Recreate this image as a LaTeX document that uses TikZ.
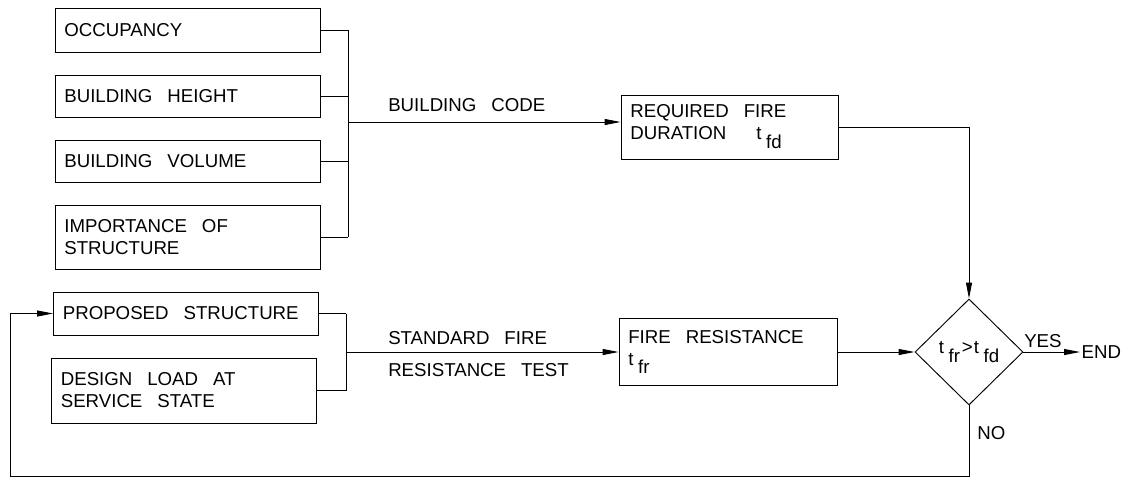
\documentclass[tikz,border=0pt]{standalone}
\usepackage{fontspec}
\setmainfont{Liberation Sans}
\usetikzlibrary{arrows.meta,shapes.geometric}
\newcommand\tsb[2]{#1\raisebox{-0.9ex}{\kern0.25em #2}}
\newcommand\ws{\hspace{0.8em}}
\begin{document}
\begin{tikzpicture}[x=0.75pt,y=-0.75pt,
  every node/.style={font=\fontsize{14}{16.5}\selectfont},
  lbox/.style={draw, line width=0.7pt, rectangle, inner xsep=7pt, inner ysep=0pt, align=left},
  arr/.style={line width=0.7pt, -{Triangle[length=12pt,width=4.5pt]}},
  ln/.style={line width=0.7pt},
  lbl/.style={inner sep=0pt}]
\useasboundingbox (0,0) rectangle (1132,480);

% left boxes
\node[lbox, text width=184.75pt, minimum height=33pt]   (occ)  at (187.5,30)  {OCCUPANCY};
\node[lbox, text width=184.75pt, minimum height=31.5pt] (hgt)  at (187.5,96)  {BUILDING\ws HEIGHT};
\node[lbox, text width=184.75pt, minimum height=31.5pt] (vol)  at (187.5,161) {BUILDING\ws VOLUME};
\node[lbox, text width=184.75pt, minimum height=48pt]   (imp)  at (187.5,237) {IMPORTANCE\ws OF\\STRUCTURE};
\node[lbox, text width=184.75pt, minimum height=32.25pt](prop) at (186,313.5) {PROPOSED\ws STRUCTURE};
\node[lbox, text width=184.75pt, minimum height=48.75pt](load) at (184,390.5) {DESIGN\ws LOAD\ws AT\\SERVICE\ws STATE};

% middle boxes
\node[lbox, text width=148.75pt, minimum height=48pt]   (req) at (729.5,127) {REQUIRED\ws FIRE\\DURATION\ws\ws\tsb{t}{fd}};
\node[lbox, text width=149.5pt, minimum height=50.25pt] (res) at (728,352)   {FIRE\ws RESISTANCE\\\tsb{t}{fr}};

% decision
\node[draw, line width=0.7pt, diamond, aspect=1, inner sep=0pt, minimum width=81pt, minimum height=79.5pt] (dia) at (969,352) {\tsb{t}{fr}\kern0.1em>\kern0.05em\tsb{t}{fd}};
\node[lbl, anchor=west, inner sep=1pt] (end) at (1080,352) {END};

% bracket 1
\coordinate (b1) at (348,122);
\draw[ln] (occ.east) -- (occ.east -| b1);
\draw[ln] (hgt.east) -- (hgt.east -| b1);
\draw[ln] (vol.east) -- (vol.east -| b1);
\draw[ln] (imp.east) -- (imp.east -| b1);
\draw[ln] (occ.east -| b1) -- (imp.east -| b1);
\draw[arr] (b1) -- (b1 -| req.west);
\node[lbl, anchor=base west] (bc) at (388,111) {BUILDING\ws CODE};

% bracket 2
\coordinate (b2) at (346,352);
\draw[ln] (prop.east) -- (prop.east -| b2);
\draw[ln] (load.east) -- (load.east -| b2);
\draw[ln] (prop.east -| b2) -- (load.east -| b2);
\draw[arr] (b2) -- (b2 -| res.west);
\node[lbl, anchor=base west] (sf) at (388,344) {STANDARD\ws FIRE};
\node[lbl, anchor=base west] (rt) at (388,376) {RESISTANCE\ws TEST};

% to decision
\draw[arr] (req.east) -| (dia.north);
\draw[arr] (res.east) -- (dia.west);
\draw[arr] (dia.east) -- (end.west);
\node[lbl, anchor=base west] (yes) at (1024,347) {YES};

% feedback loop
\coordinate (lp) at (10,476);
\draw[arr] (dia.south) |- (lp) |- (prop.west);
\node[lbl, anchor=base west] (no) at (977,439) {NO};
\end{tikzpicture}
\end{document}
